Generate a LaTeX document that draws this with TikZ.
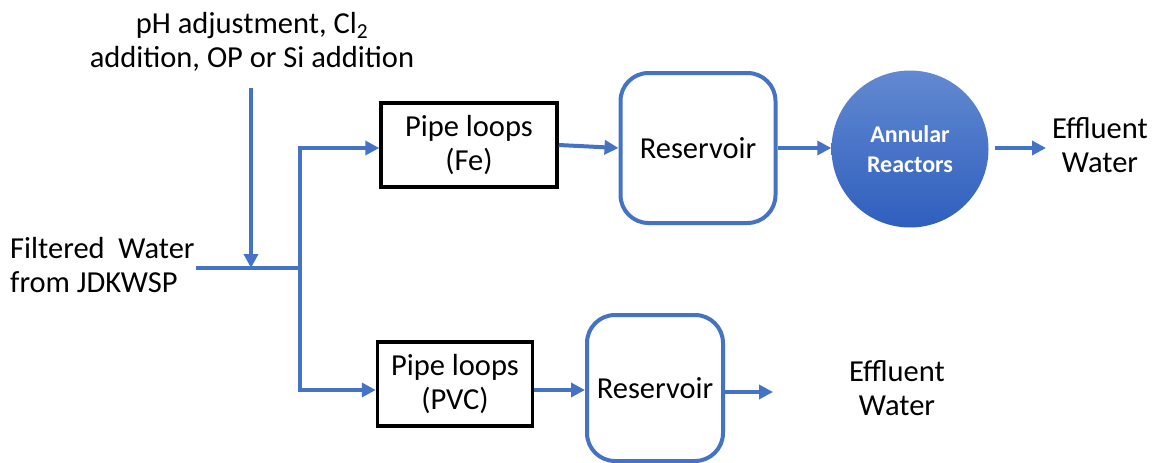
\documentclass[tikz,border=0pt]{standalone}
\usepackage{fontspec}
\setmainfont{Carlito}
\usetikzlibrary{arrows.meta}
\definecolor{lnblue}{HTML}{4472C4}
\definecolor{ctop}{HTML}{6289D1}
\definecolor{cbot}{HTML}{2F5FBE}
\tikzset{
  flow/.style={draw=lnblue, line width=4pt, -{Triangle[length=14pt,width=14pt]}},
  pipe/.style={draw=lnblue, line width=4pt},
  loopbox/.style={draw=black, line width=3.5pt, align=center, font=\fontsize{30.5}{34}\selectfont},
  resbox/.style={draw=lnblue, line width=4pt, rounded corners=28pt, align=center, font=\fontsize{30.5}{34}\selectfont},
  lbl/.style={align=center, font=\fontsize{30.5}{34}\selectfont, inner sep=0pt},
}
\begin{document}
\begin{tikzpicture}[x=1pt, y=-1pt]
\useasboundingbox (0,0) rectangle (1160,463);
% labels
\node[lbl] (top) at (252,42) {pH adjustment, Cl\textsubscript{2}\\addition, OP or Si addition};
\node[lbl, align=left, anchor=west] (src) at (10,265) {Filtered~~Water\\from JDKWSP};
% boxes
\node[loopbox, minimum width=176pt, minimum height=84pt] (fe) at (469,145) {Pipe loops\\(Fe)};
\node[resbox, minimum width=155pt, minimum height=150pt] (res1) at (698,148) {Reservoir};
\node[circle, minimum size=157pt, top color=ctop, bottom color=cbot, inner sep=0pt,
      align=center, text=white, font=\fontsize{24}{30}\selectfont\bfseries] (ar) at (910,149) {Annular\\Reactors};
\node[lbl] (eff1) at (1100,145) {Effluent\\Water};
\node[loopbox, minimum width=155pt, minimum height=84pt] (pvc) at (455,384) {Pipe loops\\(PVC)};
\node[resbox, minimum width=136pt, minimum height=146pt] (res2) at (655,388) {Reservoir};
\node[lbl] (eff2) at (897,388) {Effluent\\Water};
% connectors
\coordinate (c1) at (251,88);
\coordinate (j) at (251,268);
\coordinate (s) at (196,268);
\coordinate (t) at (300,268);
\coordinate (p2) at (533,390);
\draw[flow] (c1) -- (j);
\draw[pipe] (s) -- (t);
\draw[flow] (t) |- ([yshift=-3pt]fe.west);
\draw[flow] (t) |- (pvc.west |- p2);
\draw[flow] (fe.east) -- (res1.west);
\draw[flow] (res1.east) -- (res1.east -| ar.west);
\coordinate (e1) at (1046,148);
\draw[flow] ([xshift=6pt]ar.east |- e1) -- (e1);
\draw[flow] (pvc.east |- p2) -- (res2.west |- p2);
\coordinate (e2) at (773,392);
\draw[flow] (res2.east |- e2) -- (e2);
\end{tikzpicture}
\end{document}
